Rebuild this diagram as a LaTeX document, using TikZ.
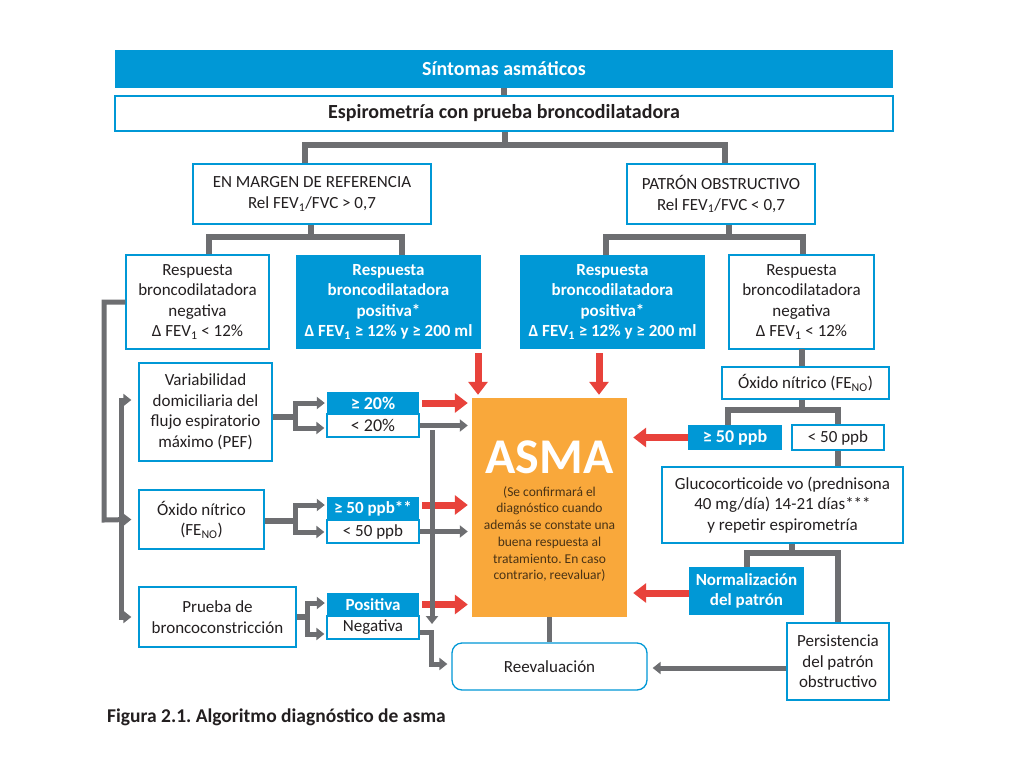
\documentclass[tikz,border=0pt]{standalone}
\usepackage{fontspec}
\setmainfont{Carlito}
\usetikzlibrary{arrows.meta}
\definecolor{cblue}{HTML}{0098D6}
\definecolor{cgray}{HTML}{6D6E71}
\definecolor{cred}{HTML}{E8423B}
\definecolor{corange}{HTML}{F9A83B}
\definecolor{ctext}{HTML}{231F20}
\definecolor{cbrown}{HTML}{4A3315}
\tikzset{
  box/.style={draw=cblue, line width=1.3pt, fill=white, text=ctext, align=center, inner sep=0pt, font=\fontsize{17}{20.5}\selectfont},
  bbox/.style={fill=cblue, text=white, align=center, inner sep=0pt, font=\bfseries\fontsize{17}{20.5}\selectfont},
  conn/.style={draw=cgray, line width=5.5pt},
  garrow/.style={draw=cgray, line width=5pt, -{Triangle[length=8pt,width=12pt]}},
  rarrow/.style={draw=cred, line width=7pt, -{Triangle[length=13pt,width=19pt]}},
}
\frenchspacing
\begin{document}
\begin{tikzpicture}[x=1pt,y=-1pt]
\useasboundingbox[fill=white] (0,0) rectangle (1024,768);

% --- nodes ---
\node[bbox, minimum width=778pt, minimum height=38pt, font=\bfseries\fontsize{20}{22}\selectfont] (sint) at (504,69) {Síntomas asmáticos};
\node[box, minimum width=778pt, minimum height=35pt, font=\bfseries\fontsize{20}{22}\selectfont] (espi) at (504,113.5) {Espirometría con prueba broncodilatadora};
\node[box, minimum width=238pt, minimum height=60pt] (marg) at (312,194) {EN MARGEN DE REFERENCIA\\Rel FEV\textsubscript{1}/FVC > 0,7};
\node[box, minimum width=188pt, minimum height=60pt] (patr) at (721,194) {PATRÓN OBSTRUCTIVO\\Rel FEV\textsubscript{1}/FVC < 0,7};
\node[box, minimum width=143pt, minimum height=94pt] (rnegL) at (197.5,302) {Respuesta\\broncodilatadora\\negativa\\Δ FEV\textsubscript{1} < 12\%};
\node[bbox, minimum width=185pt, minimum height=94pt] (rposL) at (388.5,302) {Respuesta\\broncodilatadora\\positiva*\\Δ FEV\textsubscript{1} ≥ 12\% y ≥ 200 ml};
\node[bbox, minimum width=185pt, minimum height=94pt] (rposR) at (612.5,302) {Respuesta\\broncodilatadora\\positiva*\\Δ FEV\textsubscript{1} ≥ 12\% y ≥ 200 ml};
\node[box, minimum width=145pt, minimum height=94pt] (rnegR) at (801.5,302) {Respuesta\\broncodilatadora\\negativa\\Δ FEV\textsubscript{1} < 12\%};

\node[box, minimum width=167pt, minimum height=32pt] (oxR) at (805.5,383) {Óxido nítrico (FE\textsubscript{NO})};
\node[bbox, minimum width=94pt, minimum height=25pt, font=\bfseries\fontsize{18}{20.5}\selectfont] (ge50R) at (735,437.5) {≥ 50 ppb};
\node[box, minimum width=92pt, minimum height=25pt] (lt50R) at (838,437.5) {< 50 ppb};
\node[box, minimum width=241pt, minimum height=76pt] (gluco) at (782.5,505) {Glucocorticoide vo (prednisona\\40 mg/día) 14-21 días***\\y repetir espirometría};
\node[bbox, minimum width=115pt, minimum height=48pt] (norm) at (746.5,591) {Normalización\\del patrón};
\node[box, minimum width=102pt, minimum height=77pt] (pers) at (838,661.5) {Persistencia\\del patrón\\obstructivo};
\node[box, rounded corners=10pt, minimum width=195pt, minimum height=47pt] (reev) at (549.5,666.5) {Reevaluación};

\node[fill=corange, minimum width=155pt, minimum height=219pt, inner sep=0pt] (asma) at (549.5,507.5) {};
\node[text=white, font=\bfseries\fontsize{50}{52}\selectfont, inner sep=0pt] (asmat) at (549.5,457) {ASMA};
\node[text=cbrown, align=center, font=\fontsize{13.5}{16.7}\selectfont, inner sep=0pt] (asmap) at (549.5,534) {(Se confirmará el\\diagnóstico cuando\\además se constate una\\buena respuesta al\\tratamiento. En caso\\contrario, reevaluar)};

\node[box, minimum width=133pt, minimum height=98pt] (var) at (205.5,412) {Variabilidad\\domiciliaria del\\flujo espiratorio\\máximo (PEF)};
\node[bbox, minimum width=92pt, minimum height=22pt, font=\bfseries\fontsize{18}{20.5}\selectfont] (ge20) at (373,403) {≥ 20\%};
\node[box, minimum width=92pt, minimum height=23pt, font=\fontsize{18}{20.5}\selectfont] (lt20) at (373,425.5) {< 20\%};
\node[box, minimum width=125pt, minimum height=59pt] (oxL) at (201.5,519.5) {Óxido nítrico\\(FE\textsubscript{NO})};
\node[bbox, minimum width=92pt, minimum height=23pt] (ge50L) at (373,508.5) {≥ 50 ppb**};
\node[box, minimum width=92pt, minimum height=23pt] (lt50L) at (373,531.5) {< 50 ppb};
\node[box, minimum width=157pt, minimum height=60pt] (prueba) at (217.5,617) {Prueba de\\broncoconstricción};
\node[bbox, minimum width=92pt, minimum height=23pt] (posit) at (373,604.5) {Positiva};
\node[box, minimum width=92pt, minimum height=23pt] (negat) at (373,627.5) {Negativa};

\node[anchor=base west, inner sep=0pt, text=ctext, font=\bfseries\fontsize{19.5}{22}\selectfont] (cap) at (107,722) {Figura 2.1. Algoritmo diagnóstico de asma};

% --- tree connectors ---
\draw[conn] (sint.south) -- (espi.north);
\coordinate (tJ) at (505,145); \coordinate (tL) at (305,145); \coordinate (tR) at (725,145);
\draw[conn] (tJ |- espi.south) -- (tJ);
\draw[conn] (tL |- marg.north) -- (tL) -- (tR) -- (tR |- patr.north);

\coordinate (mJ) at (311,237); \coordinate (mL) at (209,237); \coordinate (mR) at (402,237);
\draw[conn] (mJ |- marg.south) -- (mJ);
\draw[conn] (mL |- rnegL.north) -- (mL) -- (mR) -- (mR |- rposL.north);

\coordinate (pJ) at (729,237); \coordinate (pL) at (606,237); \coordinate (pR) at (803,237);
\draw[conn] (pJ |- patr.south) -- (pJ);
\draw[conn] (pL |- rposR.north) -- (pL) -- (pR) -- (pR |- rnegR.north);

\coordinate (xJ) at (802,349);
\draw[conn] (xJ) -- (xJ |- oxR.north);
\coordinate (oJ) at (802,410); \coordinate (oL) at (728,410); \coordinate (oR) at (838,410);
\draw[conn] (oJ |- oxR.south) -- (oJ);
\draw[conn] (oL |- ge50R.north) -- (oL) -- (oR) -- (oR |- lt50R.north);
\draw[conn] (lt50R.south) -- (lt50R.south |- gluco.north);

\coordinate (gJ) at (792,553); \coordinate (gL) at (747,553); \coordinate (gR) at (838,553);
\draw[conn] (gJ |- gluco.south) -- (gJ);
\draw[conn] (gL |- norm.north) -- (gL) -- (gR) -- (gR |- pers.north);

\draw[conn] (asma.south) -- (reev.north);
\coordinate (pw) at ([yshift=-6.5pt]pers.west);
\draw[garrow, shorten >=5pt] (pw) -- (pw -| reev.east);

% --- red arrows into ASMA ---
\coordinate (ra) at (478,349); \coordinate (rb) at (599,349);
\draw[rarrow, shorten <=4pt, shorten >=3pt] (ra) -- (ra |- asma.north);
\draw[rarrow, shorten <=4pt, shorten >=3pt] (rb) -- (rb |- asma.north);
\draw[rarrow, shorten <=3pt, shorten >=4pt] (ge20.east) -- (ge20.east -| asma.west);
\coordinate (g5) at ([yshift=3.5pt]ge50L.east);
\draw[rarrow, shorten <=3pt, shorten >=4pt] (g5) -- (g5 -| asma.west);
\draw[rarrow, shorten <=3pt, shorten >=4pt] (posit.east) -- (posit.east -| asma.west);
\draw[rarrow, shorten >=6pt] (ge50R.west) -- (ge50R.west -| asma.east);
\coordinate (nw) at ([yshift=-2pt]norm.west);
\draw[rarrow, shorten >=6pt] (nw) -- (nw -| asma.east);

% --- gray arrows into ASMA ---
\draw[garrow, shorten >=4pt] (lt20.east) -- (lt20.east -| asma.west);
\draw[garrow, shorten >=4pt] (lt50L.east) -- (lt50L.east -| asma.west);

% --- forks ---
\coordinate (fV) at (295,417);
\draw[conn] ([yshift=-5pt]var.east) -- (fV);
\draw[garrow] (fV) |- ([xshift=-2pt]ge20.west);
\draw[garrow] (fV) |- ([xshift=-2pt,yshift=-2.5pt]lt20.west);
\coordinate (fO) at (295,521);
\draw[conn] ([yshift=-1.5pt]oxL.east) -- (fO);
\draw[garrow] (fO) |- ([xshift=-2pt,yshift=3.5pt]ge50L.west);
\draw[garrow] (fO) |- ([xshift=-2pt,yshift=-0.5pt]lt50L.west);
\coordinate (fP) at (307,617);
\draw[conn] (prueba.east) -- (fP);
\draw[garrow] (fP) |- ([xshift=-2pt,yshift=1.5pt]posit.west);
\draw[garrow] (fP) |- ([xshift=-2pt,yshift=-6.5pt]negat.west);

% --- negatives to reevaluation ---
\coordinate (nR) at (431,632);
\coordinate (rw) at ([xshift=-4pt,yshift=2.5pt]reev.west);
\draw[garrow] ([yshift=-4.5pt]negat.east) -- (nR) |- (rw);
\coordinate (vT) at (432,430); \coordinate (vB) at (432,624);
\draw[garrow] (vT) -- (vB);

% --- left feed lines ---
\coordinate (L2) at (104,520);
\draw[garrow] (rnegL.west) -| (L2) -- ([xshift=-7pt]oxL.west);
\coordinate (L3) at (121,500);
\draw[garrow] (L3) |- ([xshift=-7pt,yshift=12pt]var.west);
\draw[garrow] (L3) |- ([xshift=-7pt]prueba.west);
\end{tikzpicture}
\end{document}
